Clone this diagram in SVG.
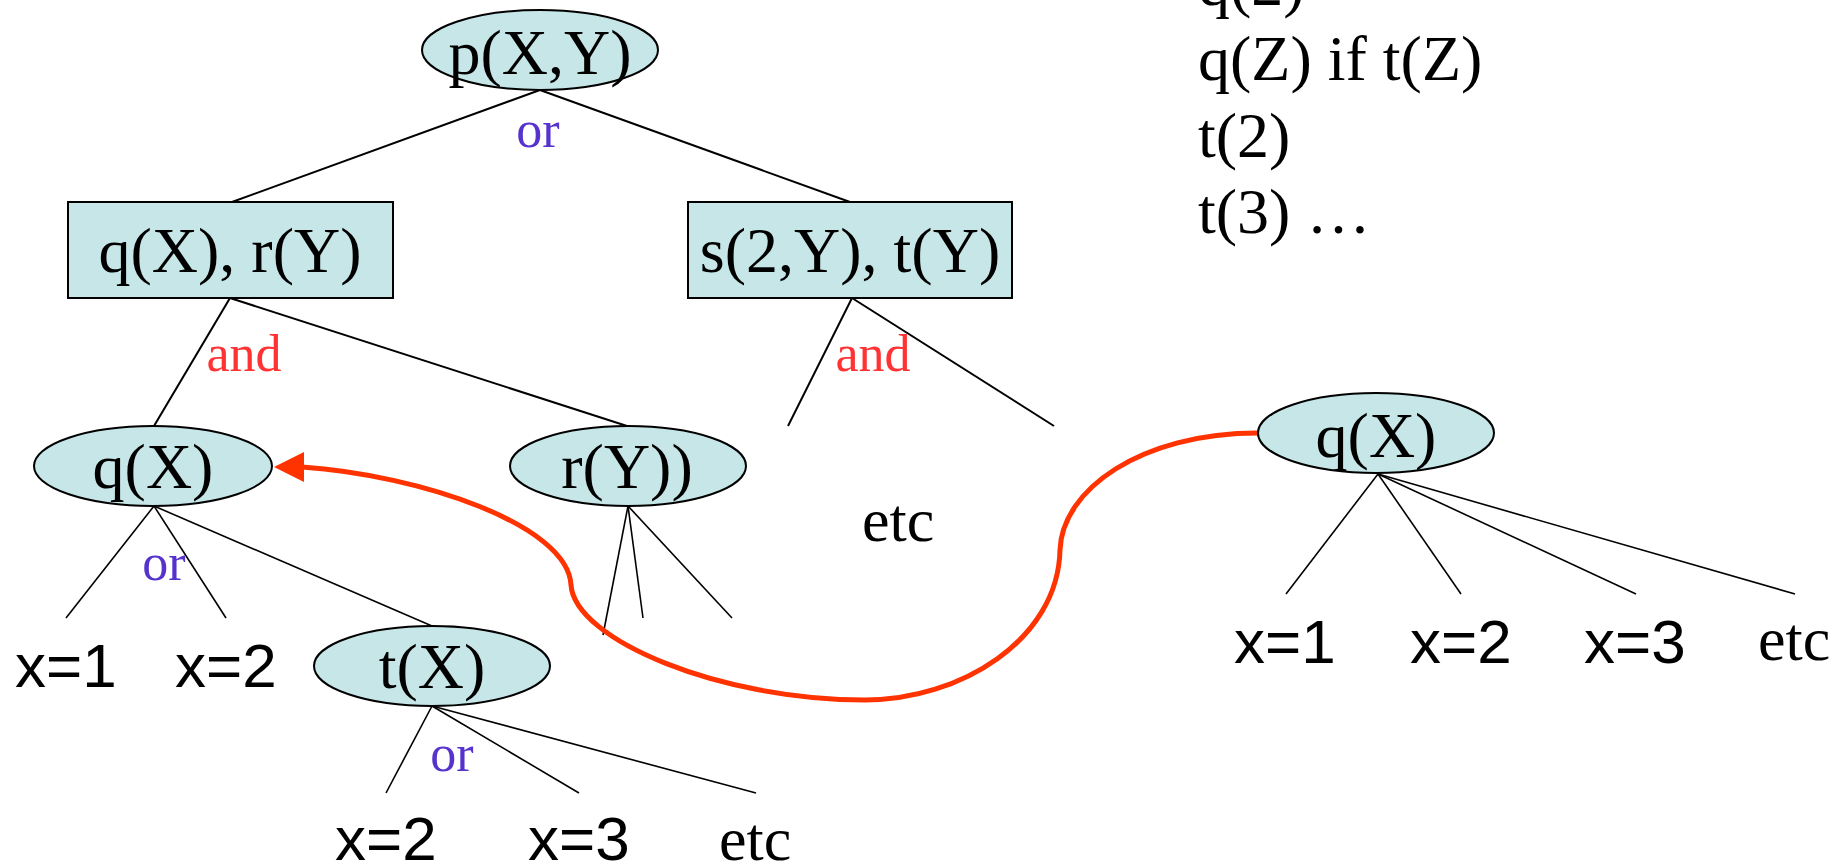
<svg xmlns="http://www.w3.org/2000/svg" width="1844" height="864" viewBox="0 0 1844 864">
<defs>
<style>
.bg{fill:#ffffff}
.node{fill:#C6E6E8;stroke:#000;stroke-width:2}
.edge{stroke:#000;stroke-width:2;fill:none}
.thin{stroke:#000;stroke-width:1.6;fill:none}
.t{font-family:"Liberation Serif","Times New Roman",serif;font-size:64px;fill:#000}
.lab{font-family:"Liberation Serif","Times New Roman",serif;font-size:52px}
.or{fill:#5533CC}
.and{fill:#FF3333}
.s{font-family:"Liberation Sans",Arial,sans-serif;font-size:62px;fill:#000}
.etc{font-family:"Liberation Serif","Times New Roman",serif;font-size:62px;fill:#000}
.mid{text-anchor:middle}
.red{stroke:#FF3300;stroke-width:5;fill:none}
</style>
</defs>
<rect class="bg" x="0" y="0" width="1844" height="864"/>

<g id="connectors">
<line class="edge" x1="540" y1="90" x2="232" y2="202"/>
<line class="edge" x1="540" y1="90" x2="850" y2="202"/>
<line class="edge" x1="230" y1="298" x2="154" y2="426"/>
<line class="edge" x1="230" y1="298" x2="627" y2="426"/>
<line class="edge" x1="852" y1="298" x2="788" y2="426"/>
<line class="edge" x1="852" y1="298" x2="1054" y2="426"/>
<line class="thin" x1="154" y1="506" x2="66" y2="618"/>
<line class="thin" x1="154" y1="506" x2="226" y2="618"/>
<line class="thin" x1="154" y1="506" x2="432" y2="626"/>
<line class="thin" x1="628" y1="506" x2="603" y2="635"/>
<line class="thin" x1="628" y1="506" x2="643" y2="618"/>
<line class="thin" x1="628" y1="506" x2="732" y2="618"/>
<line class="thin" x1="432" y1="706" x2="386" y2="793"/>
<line class="thin" x1="432" y1="706" x2="579" y2="793"/>
<line class="thin" x1="432" y1="706" x2="756" y2="793"/>
<line class="thin" x1="1378" y1="474" x2="1286" y2="594"/>
<line class="thin" x1="1378" y1="474" x2="1461" y2="594"/>
<line class="thin" x1="1378" y1="474" x2="1636" y2="594"/>
<line class="thin" x1="1378" y1="474" x2="1795" y2="594"/>
<path class="red" d="M1258,433 C1140,433 1062,490 1060,550 C1058,640 960,700 865,700 C720,700 575,640 571,585 C568,525 420,475 302,467"/>
<path d="M274,467 L304,452 L304,482 z" fill="#FF3300"/>
</g>

<g id="n-pxy">
<ellipse class="node" cx="540" cy="50" rx="118" ry="40"/>
<text class="t mid" x="540" y="74">p(X,Y)</text>
</g>
<text class="lab or mid" x="538" y="147">or</text>

<g id="n-qr">
<rect class="node" x="68" y="202" width="325" height="96"/>
<text class="t mid" x="230" y="272">q(X), r(Y)</text>
</g>
<g id="n-st">
<rect class="node" x="688" y="202" width="324" height="96"/>
<text class="t mid" x="850" y="272">s(2,Y), t(Y)</text>
</g>
<text class="lab and mid" x="244" y="371">and</text>
<text class="lab and mid" x="873" y="371">and</text>

<g id="n-qx">
<ellipse class="node" cx="153" cy="466" rx="119" ry="40"/>
<text class="t mid" x="153" y="488">q(X)</text>
</g>
<g id="n-ry">
<ellipse class="node" cx="628" cy="466" rx="118" ry="40"/>
<text class="t mid" x="627" y="488">r(Y))</text>
</g>
<text class="etc" x="862" y="541">etc</text>

<text class="lab or mid" x="164" y="580">or</text>
<text class="s" x="15" y="687">x=1</text>
<text class="s" x="175" y="687">x=2</text>

<g id="n-tx">
<ellipse class="node" cx="432" cy="666" rx="118" ry="40"/>
<text class="t mid" x="432" y="688">t(X)</text>
</g>
<text class="lab or mid" x="452" y="771">or</text>
<text class="s" x="335" y="860">x=2</text>
<text class="s" x="528" y="860">x=3</text>
<text class="etc" x="719" y="860">etc</text>

<g id="n-qx2">
<ellipse class="node" cx="1376" cy="433" rx="118" ry="40"/>
<text class="t mid" x="1376" y="457">q(X)</text>
</g>
<text class="s" x="1234" y="663">x=1</text>
<text class="s" x="1410" y="663">x=2</text>
<text class="s" x="1584" y="663">x=3</text>
<text class="etc" x="1758" y="660">etc</text>

<g id="program">
<text class="t" x="1198" y="5">q(2)</text>
<text class="t" x="1198" y="80">q(Z) if t(Z)</text>
<text class="t" x="1198" y="157">t(2)</text>
<text class="t" x="1198" y="233">t(3) …</text>
</g>
</svg>
